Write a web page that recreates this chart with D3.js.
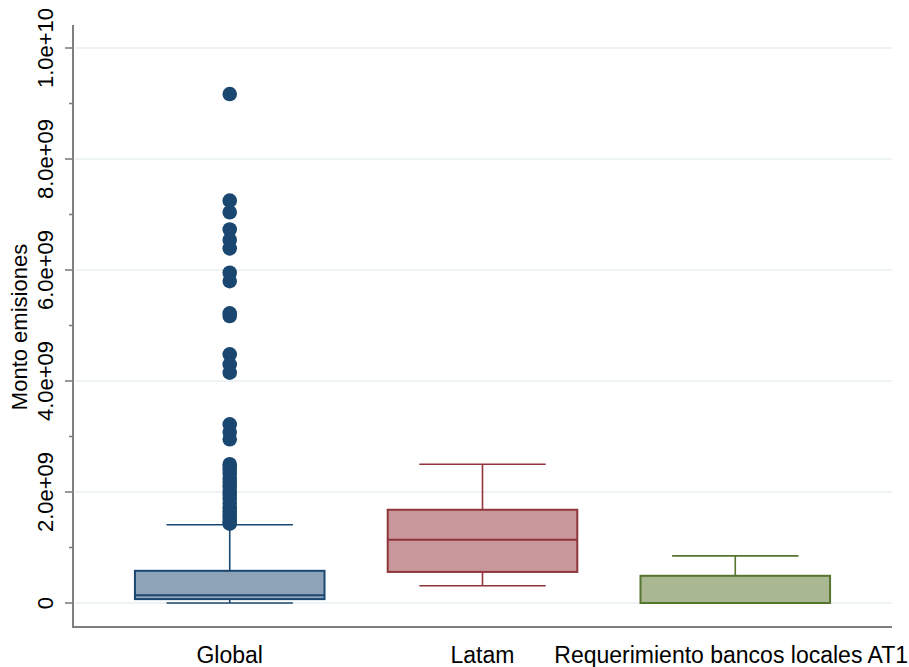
<!DOCTYPE html>
<html>
<head>
<meta charset="utf-8">
<script src="https://cdn.jsdelivr.net/npm/d3@7"></script>
<style>
  html, body { margin: 0; padding: 0; background: #ffffff; }
  svg { display: block; font-family: "Liberation Sans", Arial, sans-serif; }
</style>
</head>
<body>
<svg id="chart" width="909" height="667"></svg>
<script>
// ---- data ----
const categories = ["Global", "Latam", "Requerimiento bancos locales AT1"];
const lowerWhisker = [0, 0.31e9, 0];
const q1 = [0.07e9, 0.56e9, 0];
const median = [0.14e9, 1.14e9, 0];
const q3 = [0.58e9, 1.68e9, 0.49e9];
const upperWhisker = [1.41e9, 2.50e9, 0.85e9];
const globalOutliers = [
  9.17e9, 7.25e9, 7.04e9, 6.73e9, 6.54e9, 6.39e9, 5.95e9, 5.80e9, 5.22e9, 5.17e9,
  4.48e9, 4.30e9, 4.15e9, 3.22e9, 3.08e9, 2.95e9,
  2.50e9, 2.45e9, 2.40e9, 2.33e9, 2.25e9, 2.18e9, 2.10e9, 2.02e9, 1.95e9,
  1.88e9, 1.80e9, 1.72e9, 1.65e9, 1.58e9, 1.52e9, 1.46e9, 1.43e9
];
const yTicks = [0, 2e9, 4e9, 6e9, 8e9, 1e10];
const yTickLabels = ["0", "2.0e+09", "4.0e+09", "6.0e+09", "8.0e+09", "1.0e+10"];
const yMinorTicks = [1e9, 3e9, 5e9, 7e9, 9e9];
const yTitle = "Monto emisiones";
const strokeColors = ["#1a476f", "#90353b", "#55752f"];
const fillColors = ["#8fa3b8", "#c8979b", "#a9b892"];

// ---- layout ----
const svg = d3.select("#chart");
const pLeft = 73, pRight = 892, pTop = 25, pBottom = 627;
const y = d3.scaleLinear().domain([0, 1e10]).range([603, 48]);
const x = d3.scalePoint().domain(categories).range([pLeft, pRight]).padding(0.62);
const step = x.step();
const boxW = step * 0.75, capW = step * 0.5;

// grid
svg.append("g").selectAll("line").data(yTicks).join("line")
  .attr("x1", pLeft + 2).attr("x2", pRight)
  .attr("y1", d => y(d)).attr("y2", d => y(d))
  .attr("stroke", "#e8f0f2").attr("stroke-width", 1.5);

// boxes
const data = categories.map((c, i) => ({c, i, lo: lowerWhisker[i], q1: q1[i], med: median[i], q3: q3[i], hi: upperWhisker[i]}));
const g = svg.append("g");
data.forEach(d => {
  const cx = x(d.c);
  const sc = strokeColors[d.i];
  g.append("line").attr("x1", cx).attr("x2", cx).attr("y1", y(d.q3)).attr("y2", y(d.hi))
    .attr("stroke", sc).attr("stroke-width", 1.6);
  g.append("line").attr("x1", cx).attr("x2", cx).attr("y1", y(d.q1)).attr("y2", y(d.lo))
    .attr("stroke", sc).attr("stroke-width", 1.6);
  g.append("line").attr("x1", cx - capW / 2).attr("x2", cx + capW / 2).attr("y1", y(d.hi)).attr("y2", y(d.hi))
    .attr("stroke", sc).attr("stroke-width", 1.6);
  g.append("line").attr("x1", cx - capW / 2).attr("x2", cx + capW / 2).attr("y1", y(d.lo)).attr("y2", y(d.lo))
    .attr("stroke", sc).attr("stroke-width", 1.6);
  g.append("rect").attr("x", cx - boxW / 2).attr("width", boxW)
    .attr("y", y(d.q3)).attr("height", Math.max(0, y(d.q1) - y(d.q3)))
    .attr("fill", fillColors[d.i]).attr("stroke", sc).attr("stroke-width", 2);
  g.append("line").attr("x1", cx - boxW / 2).attr("x2", cx + boxW / 2).attr("y1", y(d.med)).attr("y2", y(d.med))
    .attr("stroke", sc).attr("stroke-width", 2);
});

// outliers
svg.append("g").selectAll("circle").data(globalOutliers).join("circle")
  .attr("cx", x(categories[0])).attr("cy", d => y(d)).attr("r", 7.3)
  .attr("fill", strokeColors[0]);

// y axis
const axisColor = "#7f7f7f";
svg.append("line").attr("x1", pLeft).attr("x2", pLeft).attr("y1", pTop).attr("y2", pBottom + 1)
  .attr("stroke", axisColor).attr("stroke-width", 2);
svg.append("g").selectAll("line").data(yTicks).join("line")
  .attr("x1", pLeft - 8).attr("x2", pLeft).attr("y1", d => y(d)).attr("y2", d => y(d))
  .attr("stroke", axisColor).attr("stroke-width", 1.6);
svg.append("g").selectAll("line").data(yMinorTicks).join("line")
  .attr("x1", pLeft - 4).attr("x2", pLeft).attr("y1", d => y(d)).attr("y2", d => y(d))
  .attr("stroke", axisColor).attr("stroke-width", 1.6);
svg.append("g").selectAll("text").data(yTicks).join("text")
  .attr("transform", d => `translate(53,${y(d)}) rotate(-90)`)
  .attr("text-anchor", "middle")
  .attr("font-size", 22).attr("fill", "#000")
  .text((d, i) => yTickLabels[i]);
svg.append("text")
  .attr("transform", `translate(27,${(pTop + pBottom) / 2 + 1}) rotate(-90)`)
  .attr("text-anchor", "middle").attr("font-size", 22).attr("fill", "#000")
  .text(yTitle);

// x axis
svg.append("line").attr("x1", pLeft).attr("x2", pRight).attr("y1", pBottom).attr("y2", pBottom)
  .attr("stroke", axisColor).attr("stroke-width", 2);
const labels = svg.append("g").selectAll("text").data(categories).join("text")
  .attr("y", 663).attr("text-anchor", "middle").attr("font-size", 23).attr("fill", "#000")
  .text(d => d);
labels.each(function(d) {
  const w = this.getComputedTextLength();
  const cx = Math.min(x(d), 908 - w / 2);
  d3.select(this).attr("x", cx);
});
</script>
</body>
</html>
